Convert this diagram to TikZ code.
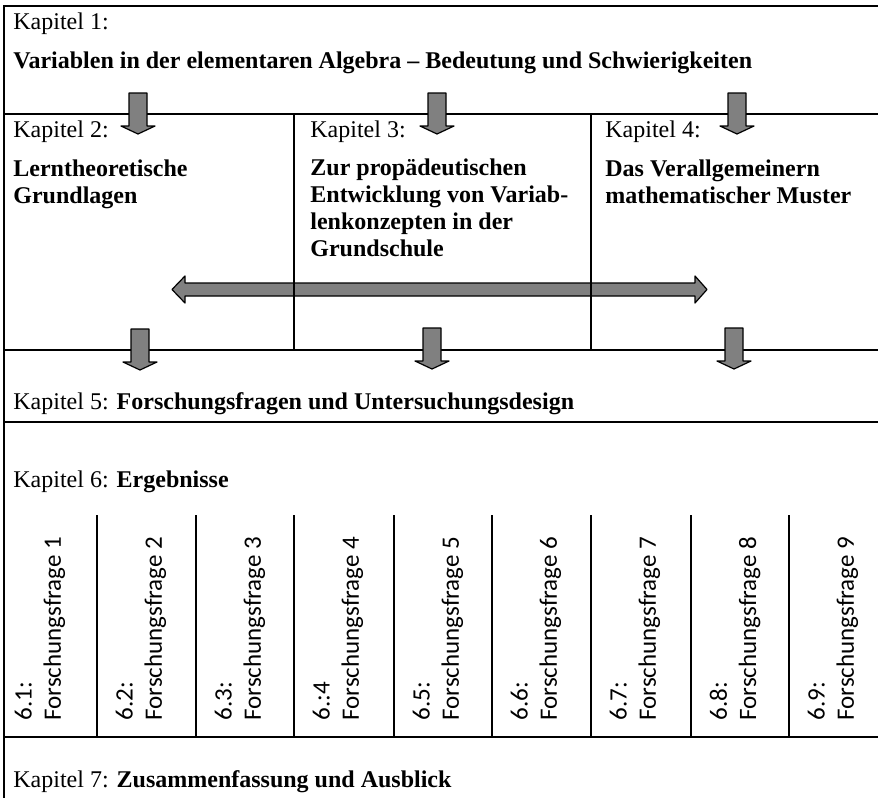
\documentclass[tikz,border=0pt]{standalone}
\usepackage{fontspec}
\setmainfont{Liberation Serif}
\newfontfamily\carlito{Carlito}
\definecolor{arrowgray}{RGB}{128,128,128}
\tikzset{
  frame/.style={line width=1.2pt},
  blockarrow/.style={draw=black, line width=0.6pt, fill=arrowgray, line join=round},
  kapitel/.style={anchor=base west, inner sep=0pt, font=\fontsize{12}{13.4}\selectfont},
  thema/.style={kapitel, align=left, font=\fontsize{12}{13.4}\selectfont\bfseries},
  frage/.style={rotate=90, anchor=west, align=left, inner sep=0pt, font=\carlito\fontsize{12.5}{14.6}\selectfont}
}
\begin{document}
\begin{tikzpicture}[x=0.5pt, y=-0.5pt]
  \useasboundingbox (0,0) rectangle (878,798);

  % Doppelpfeil zwischen Kapitel 2 und 4
  \draw[blockarrow] (172,289.5) -- (185,276) -- (185,283) -- (695,283) -- (695,276) -- (707,289.5)
    -- (695,303) -- (695,296) -- (185,296) -- (185,303) -- cycle;

  % Rahmen
  \draw[frame] (878,6) -- (4,6) -- (4,798);
  \foreach \y in {114, 350, 422, 737}
    \draw[frame] (4,\y) -- (878,\y);
  \draw[frame] (294,114) -- (294,350);
  \draw[frame] (591,114) -- (591,350);
  \foreach \x in {97, 196, 294, 394, 492, 591, 691, 789}
    \draw[frame] (\x,515) -- (\x,737);

  % Pfeile nach unten
  \foreach \ax/\ay in {138/93, 437/93, 737/93, 140/329, 432/328, 734/328}
    \draw[blockarrow] (\ax-9,\ay) -- (\ax+9,\ay) -- (\ax+9,\ay+33) -- (\ax+17,\ay+33) -- (\ax,\ay+41)
      -- (\ax-17,\ay+33) -- (\ax-9,\ay+33) -- cycle;

  % Kapitel (mehrzeilige Knoten: Grundlinie der letzten Zeile)
  \node[kapitel] (k1) at (13,29) {Kapitel 1:};
  \node[thema] (t1) at (13,68) {Variablen in der elementaren Algebra – Bedeutung und Schwierigkeiten};
  \node[kapitel] (k2) at (13,137) {Kapitel 2:};
  \node[kapitel] (k3) at (310,137) {Kapitel 3:};
  \node[kapitel] (k4) at (605,137) {Kapitel 4:};
  \node[thema] (t2) at (13,203) {Lerntheoretische\\Grundlagen};
  \node[thema] (t3) at (310,256) {Zur propädeutischen\\Entwicklung von Variab-\\lenkonzepten in der\\Grundschule};
  \node[thema] (t4) at (605,203) {Das Verallgemeinern\\mathematischer Muster};
  \node[kapitel] (k5) at (13,409) {Kapitel 5: \textbf{Forschungsfragen und Untersuchungsdesign}};
  \node[kapitel] (k6) at (13,487) {Kapitel 6: \textbf{Ergebnisse}};
  \node[kapitel] (k7) at (13,787) {Kapitel 7: \textbf{Zusammenfassung und Ausblick}};

  % Forschungsfragen
  \foreach \n/\nr/\cx in {1/6.1:/40, 2/6.2:/141, 3/6.3:/240, 4/6.:4/338, 5/6.5:/438,
                          6/6.6:/536, 7/6.7:/635, 8/6.8:/735, 9/6.9:/833}
    \node[frage] (f\n) at (\cx,721) {\nr\\Forschungsfrage \n};
\end{tikzpicture}
\end{document}
